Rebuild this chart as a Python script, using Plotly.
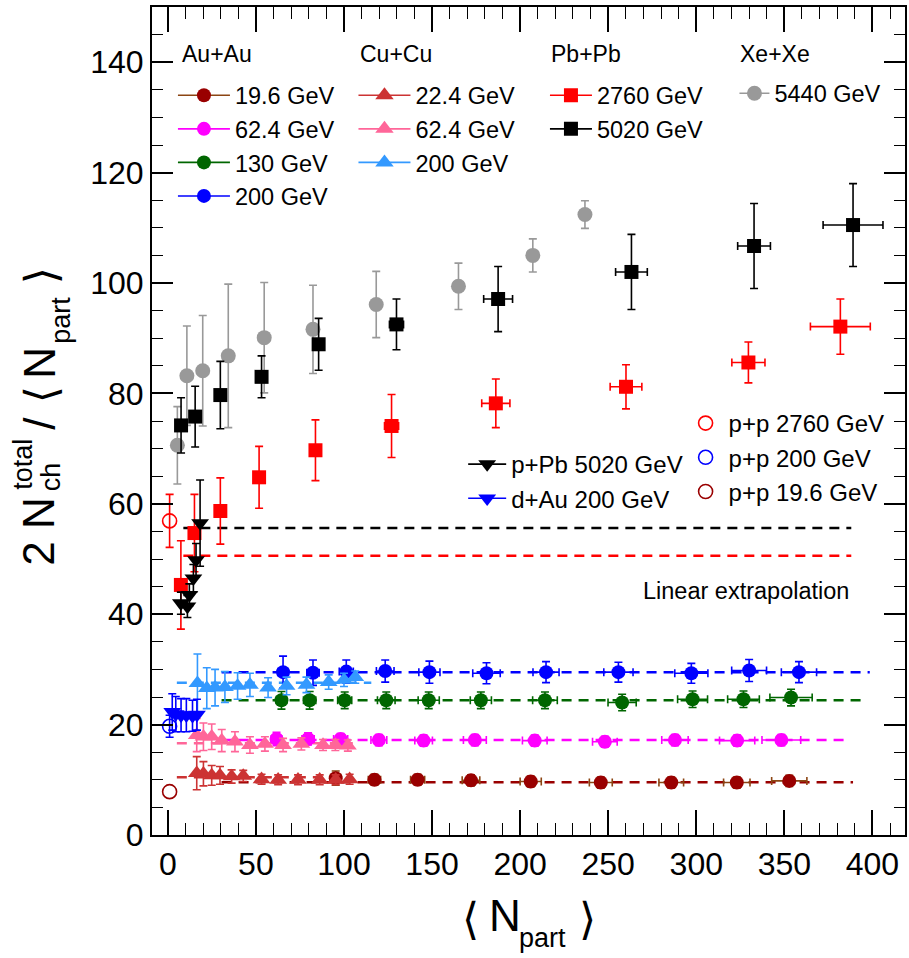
import plotly.graph_objects as go

FONT = "Liberation Sans, Arial, Helvetica, sans-serif"

# ---------------- data ----------------
# Au+Au
auau196_x = [95.3, 117.3, 141.8, 172.1, 206.0, 245.8, 285.8, 323.0, 352.8]
auau196_y = [10.3, 10.0, 10.0, 9.9, 9.7, 9.5, 9.5, 9.5, 9.8]
auau196_ey = [1.3, 1.0, 1.0, 1.0, 1.0, 1.0, 1.0, 1.0, 1.0]
auau196_ex = [3, 3.5, 4, 5, 6, 6.5, 7, 7.5, 10]

auau624_x = [61.7, 79.6, 98.1, 119.8, 145.2, 174.3, 208.3, 248.1, 287.9, 323.2, 348.3]
auau624_y = [17.4, 17.4, 17.4, 17.2, 17.1, 17.2, 17.1, 16.9, 17.2, 17.1, 17.2]
auau624_ey = [1.2, 1.1, 1.0, 1.0, 1.0, 1.0, 1.0, 1.0, 1.0, 1.0, 1.0]
auau624_ex = [3, 3.5, 4, 4.5, 5, 6.5, 7, 7, 7.5, 10, 11]

auau130_x = [64.5, 80.5, 100.4, 124.0, 148.1, 177.7, 214.1, 257.9, 297.9, 326.8, 353.8]
auau130_y = [24.4, 24.4, 24.4, 24.4, 24.4, 24.4, 24.4, 24.0, 24.6, 24.6, 24.9]
auau130_ey = [1.6, 1.6, 1.5, 1.5, 1.5, 1.5, 1.5, 1.5, 1.5, 1.5, 1.5]
auau130_ex = [3, 3.5, 4, 5, 6, 6, 7, 8, 8.5, 9, 12]

auau200_x = [65.4, 82.4, 101.3, 123.4, 148.5, 180.9, 214.7, 255.8, 297.2, 330.0, 358.3]
auau200_y = [29.5, 29.4, 29.6, 29.7, 29.5, 29.3, 29.5, 29.5, 29.3, 29.8, 29.5]
auau200_ey = [2.9, 2.3, 2.1, 2.0, 2.0, 1.9, 1.9, 1.8, 1.8, 2.0, 1.9]
auau200_ex = [3, 3.5, 4, 5, 6, 7.8, 7.4, 8.3, 9.4, 9.9, 10]

# Cu+Cu
cucu224_x = [16.4, 20.2, 24.9, 29.6, 36.2, 42.8, 53.2, 62.6, 73.9, 86.2, 95.3, 103.2]
cucu224_y = [11.2, 11.1, 10.8, 10.8, 10.6, 10.7, 10.1, 10.0, 10.0, 10.0, 10.0, 10.1]
cucu224_ey = [3.0, 2.2, 1.8, 1.6, 1.2, 1.0, 0.9, 0.9, 0.9, 0.9, 0.9, 0.9]

cucu624_x = [16.4, 20.2, 24.9, 30.6, 38.1, 46.6, 55.1, 65.4, 75.8, 88.1, 95.1, 102.2]
cucu624_y = [18.1, 17.8, 17.8, 17.1, 16.9, 16.3, 16.5, 16.3, 16.5, 16.3, 16.3, 16.2]
cucu624_ey = [3.0, 2.5, 2.3, 2.0, 1.8, 1.5, 1.3, 1.2, 1.1, 1.0, 1.0, 1.0]

cucu200_x = [16.8, 22.1, 26.8, 32.4, 39.6, 46.6, 56.9, 67.4, 78.7, 91.3, 100.0, 106.4]
cucu200_y = [27.5, 26.6, 26.7, 26.8, 27.0, 27.2, 26.7, 27.0, 27.2, 27.7, 28.1, 28.6]
cucu200_ey = [5.3, 3.7, 3.3, 2.8, 2.4, 2.1, 1.8, 1.6, 1.4, 1.3, 1.2, 1.1]

# Pb+Pb
pbpb2760_x = [7.4, 15.1, 29.8, 51.8, 83.8, 127.0, 186.2, 260.1, 329.6, 381.8]
pbpb2760_y = [45.3, 54.7, 58.7, 64.8, 69.7, 74.1, 78.2, 81.2, 85.6, 92.1]
pbpb2760_ey = [8.0, 7.0, 6.0, 5.6, 5.5, 5.7, 4.4, 4.0, 3.7, 5.0]
pbpb2760_ex = [0.5, 1, 1.5, 2, 3, 4, 8, 9, 9.4, 17]

pbpb5020_x = [7.5, 15.5, 29.8, 53.2, 85.6, 129.8, 187.5, 263.2, 332.8, 389.0]
pbpb5020_y = [74.2, 75.8, 79.7, 83.0, 88.9, 92.5, 97.1, 102.0, 106.7, 110.5]
pbpb5020_ey = [5.0, 5.5, 6.1, 3.8, 4.7, 4.6, 5.9, 6.8, 7.7, 7.5]
pbpb5020_ex = [0.5, 1, 1.5, 2, 3, 4, 8.2, 9, 9.3, 17]

# Xe+Xe
xexe_x = [5.4, 10.8, 19.8, 34.3, 54.7, 82.4, 118.3, 165.0, 207.2, 236.8]
xexe_y = [70.6, 83.2, 84.1, 86.8, 90.1, 91.6, 96.1, 99.4, 105.0, 112.4]
xexe_ey = [7.0, 9.0, 10.0, 13.0, 10.0, 8.0, 6.0, 4.2, 3.0, 2.5]

# p+Pb and d+Au
ppb_x = [7.4, 11.1, 12.2, 14.5, 16.0, 18.3]
ppb_y = [42.0, 41.4, 43.5, 46.5, 49.8, 56.5]
ppb_ey = [2.0, 2.0, 2.0, 2.5, 3.0, 7.8]

dau_x = [2.5, 4.5, 7.5, 10.5, 14.0, 16.5]
dau_y = [22.3, 21.9, 21.7, 21.7, 21.6, 21.8]
dau_ey = [3.3, 3.2, 3.0, 3.0, 2.8, 2.8]

# p+p
pp_x = [1.0, 1.0, 1.0]
pp_y = [56.9, 19.7, 7.85]
pp_ey = [4.8, 2.0, 0.0]
pp_names = ["p+p 2760 GeV", "p+p 200 GeV", "p+p 19.6 GeV"]

# constant fits / linear extrapolations: level, x start, x end
fit_level = [55.6, 50.6, 29.5, 24.4, 17.2, 9.55, 27.6, 16.6, 10.45]
fit_x0 = [8.8, 8.8, 30.5, 30.5, 30.5, 30.5, 5.1, 5.1, 5.1]
fit_x1 = [388.0, 388.0, 398.5, 393.7, 387.5, 389.0, 115.5, 105.0, 105.0]
fit_color = ["#000000", "#ff0000", "#0000ff", "#006600", "#ff00ff", "#990000",
             "#3399ff", "#ff6699", "#cc3333"]

# ---------------- figure ----------------
fig = go.Figure()

for lv, a, b, c in zip(fit_level, fit_x0, fit_x1, fit_color):
    fig.add_trace(go.Scatter(x=[a, b], y=[lv, lv], mode="lines",
                             line=dict(color=c, width=2.5, dash="10px,7px"),
                             showlegend=False, hoverinfo="skip"))


def pts(x, y, ey, color, symbol, size, ex=None, ecolor=None, open_=False,
        legend=None, name=None):
    ecolor = ecolor or color
    marker = dict(symbol=symbol, size=size, color=color, line=dict(width=0))
    if open_:
        marker = dict(symbol=symbol, size=size, color="rgba(0,0,0,0)",
                      line=dict(width=1.6, color=color))
    kw = dict(x=x, y=y, mode="markers", marker=marker,
              showlegend=False, hoverinfo="skip")
    if any(v > 0 for v in ey):
        kw["error_y"] = dict(type="data", array=ey, color=ecolor,
                             thickness=1.6, width=4)
    if ex is not None:
        kw["error_x"] = dict(type="data", array=ex, color=ecolor,
                             thickness=1.6, width=4)
    if legend:
        kw["showlegend"] = True
        kw["legend"] = legend
        kw["name"] = name
    fig.add_trace(go.Scatter(**kw))


def proxy(color, symbol, size, legend, name, lcolor=None):
    fig.add_trace(go.Scatter(x=[None], y=[None], mode="lines+markers",
                             marker=dict(symbol=symbol, size=size, color=color,
                                         line=dict(width=0)),
                             line=dict(color=lcolor or color, width=1.6),
                             legend=legend, name=name, showlegend=True))


# Au+Au
pts(auau196_x, auau196_y, auau196_ey, "#990000", "circle", 14, auau196_ex, "#8b4513")
pts(auau624_x, auau624_y, auau624_ey, "#ff00ff", "circle", 14, auau624_ex)
pts(auau130_x, auau130_y, auau130_ey, "#006600", "circle", 14, auau130_ex)
pts(auau200_x, auau200_y, auau200_ey, "#0000ff", "circle", 14, auau200_ex)
# Cu+Cu
pts(cucu224_x, cucu224_y, cucu224_ey, "#cc3333", "triangle-up", 15.5)
pts(cucu624_x, cucu624_y, cucu624_ey, "#ff6699", "triangle-up", 15.5)
pts(cucu200_x, cucu200_y, cucu200_ey, "#3399ff", "triangle-up", 15.5)
# Xe+Xe
pts(xexe_x, xexe_y, xexe_ey, "#999999", "circle", 15)
# Pb+Pb
pts(pbpb2760_x, pbpb2760_y, pbpb2760_ey, "#ff0000", "square", 14, pbpb2760_ex)
pts(pbpb5020_x, pbpb5020_y, pbpb5020_ey, "#000000", "square", 14, pbpb5020_ex)
# p+Pb, d+Au
pts(ppb_x, ppb_y, ppb_ey, "#000000", "triangle-down", 15.5)
pts(dau_x, dau_y, dau_ey, "#0000ff", "triangle-down", 15.5)
# p+p
pp_colors = ["#ff0000", "#0000ff", "#990000"]
for i in range(3):
    pts([pp_x[i]], [pp_y[i]], [pp_ey[i]], pp_colors[i], "circle", 14,
        open_=True, legend="legend6", name=pp_names[i])

# legend proxies
proxy("#990000", "circle", 14, "legend", "19.6 GeV", "#8b4513")
proxy("#ff00ff", "circle", 14, "legend", "62.4 GeV")
proxy("#006600", "circle", 14, "legend", "130 GeV")
proxy("#0000ff", "circle", 14, "legend", "200 GeV")
proxy("#cc3333", "triangle-up", 16, "legend2", "22.4 GeV")
proxy("#ff6699", "triangle-up", 16, "legend2", "62.4 GeV")
proxy("#3399ff", "triangle-up", 16, "legend2", "200 GeV")
proxy("#ff0000", "square", 14, "legend3", "2760 GeV")
proxy("#000000", "square", 14, "legend3", "5020 GeV")
proxy("#999999", "circle", 15, "legend4", "5440 GeV")
proxy("#000000", "triangle-down", 15.5, "legend5", "p+Pb 5020 GeV")
proxy("#0000ff", "triangle-down", 15.5, "legend5", "d+Au 200 GeV")

# ---------------- layout ----------------
L, R, T, B = 152, 907, 7, 835


def px2x(px):
    return (px - L) / (R - L)


def py2y(py):
    return (B - py) / (B - T)


def leg(xpx, ypx, size=23.5, iw=30):
    return dict(x=px2x(xpx), y=py2y(ypx), xanchor="left", yanchor="top",
                bgcolor="rgba(0,0,0,0)", borderwidth=0, itemwidth=iw,
                font=dict(family=FONT, size=size, color="black"),
                traceorder="normal", itemclick=False, itemdoubleclick=False)


annos = []


def txt(s, xpx, ypx, size, angle=0, family=FONT, xanchor="center"):
    annos.append(dict(text=s, x=px2x(xpx), y=py2y(ypx), xref="paper", yref="paper",
                      xanchor=xanchor, yanchor="middle", showarrow=False,
                      textangle=angle, font=dict(family=family, size=size, color="black")))


BR = "DejaVu Sans"
# y-axis title
txt("2 N", 38.5, 532, 44, -90)
txt("total", 22.5, 464, 27, -90)
txt("ch", 51, 477, 27, -90)
txt("/", 38.5, 423, 44, -90)
txt("\u27e8", 40, 395, 44, -90, BR)
txt("N", 38.5, 363, 44, -90)
txt("part", 60.5, 320, 27, -90)
txt("\u27e9", 40, 276, 44, -90, BR)
# x-axis title
txt("\u27e8", 471, 918, 44, 0, BR)
txt("N", 506, 915.6, 44)
txt("part", 543.5, 938, 27)
txt("\u27e9", 589, 918, 44, 0, BR)
# label
txt("Linear extrapolation", 748, 591, 23.5)
# legend headers
txt("Au+Au", 180, 54, 23, xanchor="left")
txt("Cu+Cu", 359, 54, 23, xanchor="left")
txt("Pb+Pb", 550, 54, 23, xanchor="left")
txt("Xe+Xe", 740, 54, 23, xanchor="left")

fig.update_layout(
    width=909, height=958,
    margin=dict(l=L, r=909 - R, t=T, b=958 - B),
    paper_bgcolor="white", plot_bgcolor="white",
    font=dict(family=FONT, size=32, color="black"),
    annotations=annos,
    legend=leg(173, 73.5, 23.5, 52),
    legend2=leg(354, 73.5, 23.5, 52),
    legend3=leg(546, 73.5, 23.5, 42),
    legend4=leg(736, 71.5, 23.5, 30),
    legend5=leg(464, 442, 24, 38),
    legend6=leg(684, 401, 24, 36),
    xaxis=dict(range=[-9.0, 418.5], showgrid=False, zeroline=False,
               showline=True, linewidth=2, linecolor="black", mirror="ticks",
               ticks="inside", ticklen=25, tickwidth=1.5, tickcolor="black",
               tick0=0, dtick=50,
               minor=dict(ticks="inside", ticklen=12, tickwidth=1.3,
                          tickcolor="black", dtick=10, showgrid=False),
               tickfont=dict(family=FONT, size=32, color="black")),
    yaxis=dict(range=[0, 150], showgrid=False, zeroline=False,
               showline=True, linewidth=2, linecolor="black", mirror="ticks",
               ticks="inside", ticklen=21, tickwidth=1.5, tickcolor="black",
               tick0=0, dtick=20,
               minor=dict(ticks="inside", ticklen=11, tickwidth=1.3,
                          tickcolor="black", dtick=5, showgrid=False),
               tickfont=dict(family=FONT, size=32, color="black")),
)

fig.write_html("out.html", config={"displayModeBar": False},
               post_script="document.body.style.margin='0px';")
